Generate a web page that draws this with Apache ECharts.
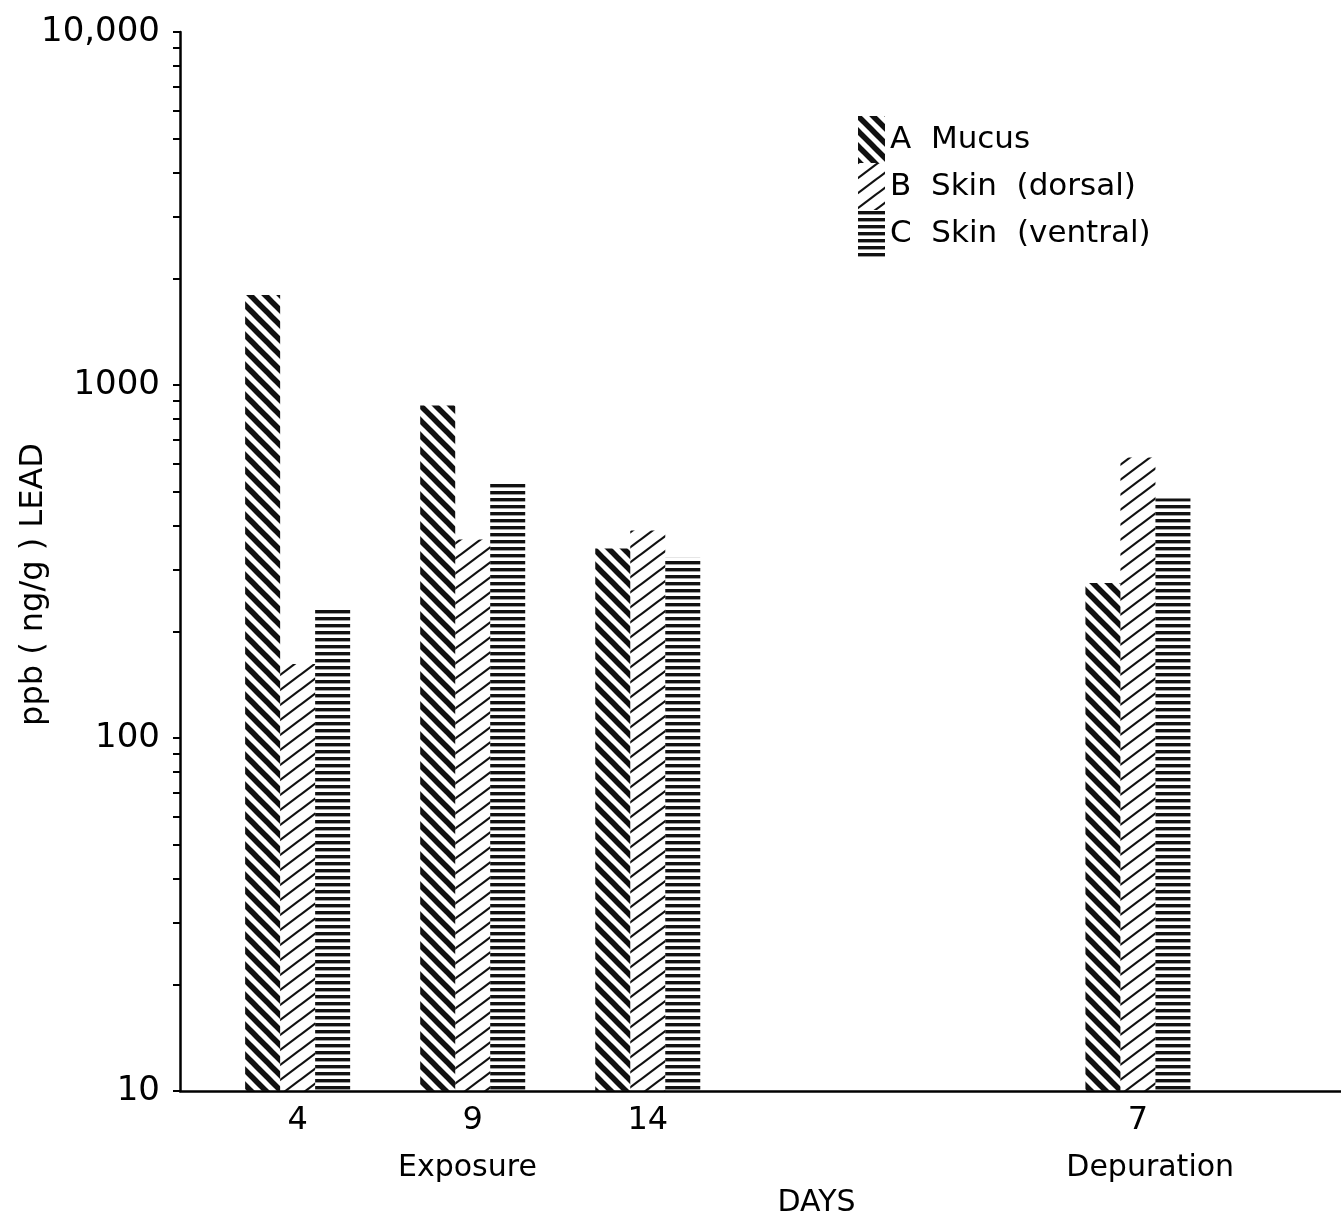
<!DOCTYPE html>
<html>
<head>
<meta charset="utf-8">
<script src="https://cdn.jsdelivr.net/npm/echarts@6/dist/echarts.min.js"></script>
<style>
html,body{margin:0;padding:0;background:#fff;}
#chart{width:1341px;height:1216px;}
</style>
</head>
<body>
<div id="chart"></div>
<script>
// ---- data ----
const dayPositions = [4, 9, 14, 28];          // position along the day axis
const dayLabels = ['4', '9', '14', '7'];
const phasePositions = [8.85, 28.35];
const phaseLabels = ['Exposure', 'Depuration'];
const seriesNames = ['A  Mucus', 'B  Skin  (dorsal)', 'C  Skin  (ventral)'];
const mucus = [1800, 875, 344, 275];
const skinDorsal = [162, 365, 387, 623];
const skinVentral = [235, 526, 324, 477];
const yMajorTicks = [10, 100, 1000, 10000];
const yMajorLabels = ['10', '100', '1000', '10,000'];
const yMinorMultipliers = [2, 3, 4, 5, 6, 7, 8, 9];

// ---- patterns ----
function makeCanvas(w, h) {
  const c = document.createElement('canvas');
  c.width = w; c.height = h;
  return c;
}
function patternA() { // "\\\" thick
  const s = 15, c = makeCanvas(s, s), ctx = c.getContext('2d');
  ctx.strokeStyle = '#111'; ctx.lineWidth = 5.5; ctx.lineCap = 'butt';
  [-s, 0, s].forEach(o => {
    ctx.beginPath(); ctx.moveTo(o - s, -s); ctx.lineTo(o + 2 * s, 2 * s); ctx.stroke();
  });
  return c;
}
function patternB() { // "///" thin
  const w = 20, h = 15, c = makeCanvas(w, h), ctx = c.getContext('2d');
  ctx.strokeStyle = '#111'; ctx.lineWidth = 2.2;
  [-w, 0, w].forEach(o => {
    ctx.beginPath(); ctx.moveTo(o - w, 2 * h); ctx.lineTo(o + 2 * w, -h); ctx.stroke();
  });
  return c;
}
function patternC() { // horizontal lines
  const w = 10, h = 7, c = makeCanvas(w, h), ctx = c.getContext('2d');
  ctx.fillStyle = '#111'; ctx.fillRect(0, 1, w, 3.4);
  return c;
}
const patterns = [patternA(), patternB(), patternC()];

const FONT = '"DejaVu Sans", sans-serif';
const allY = [mucus, skinDorsal, skinVentral];

const yTickValues = [];
yMajorTicks.forEach((d, i) => {
  yTickValues.push(d);
  if (i < yMajorTicks.length - 1) yMinorMultipliers.forEach(m => yTickValues.push(d * m));
});

const chart = echarts.init(document.getElementById('chart'), null, {renderer: 'canvas'});
chart.setOption({
  backgroundColor: '#fff',
  animation: false,
  legend: {
    orient: 'vertical',
    left: 853, top: 111,
    itemWidth: 27, itemHeight: 47, itemGap: 0,
    icon: 'rect',
    textStyle: {color: '#000', fontSize: 31, fontFamily: FONT},
    data: seriesNames
  },
  grid: {left: 180, right: 0, top: 32, bottom: 125, containLabel: false, outerBoundsMode: 'none'},
  xAxis: [{
    type: 'value',
    min: 0.64, max: 33.8,
    axisLine: {show: true, onZero: false, lineStyle: {color: '#000', width: 2.5}},
    axisTick: {show: false},
    splitLine: {show: false},
    axisLabel: {
      customValues: dayPositions,
      formatter: v => dayLabels[dayPositions.indexOf(v)] || '',
      color: '#000', fontSize: 32, fontFamily: FONT, margin: 14
    }
  }, {
    type: 'value',
    min: 0.64, max: 33.8,
    position: 'bottom', offset: 50,
    axisLine: {show: false}, axisTick: {show: false}, splitLine: {show: false},
    axisLabel: {
      customValues: phasePositions,
      formatter: v => phaseLabels[phasePositions.indexOf(v)] || '',
      color: '#000', fontSize: 30, fontFamily: FONT, margin: 12
    },
    name: 'DAYS', nameLocation: 'middle', nameGap: 42,
    nameTextStyle: {color: '#000', fontSize: 30, fontFamily: FONT, padding: [0, 0, 0, 112]}
  }],
  yAxis: {
    type: 'log', logBase: 10, min: 10, max: 10000,
    axisLine: {show: true, lineStyle: {color: '#000', width: 2.5}},
    axisTick: {show: true, inside: false, length: 7, customValues: yTickValues,
      lineStyle: {color: '#000', width: 2}},
    splitLine: {show: false},
    minorTick: {show: false},
    axisLabel: {
      customValues: yMajorTicks,
      formatter: v => yMajorLabels[yMajorTicks.indexOf(v)] || '',
      color: '#000', fontSize: 34, fontFamily: FONT, margin: 20
    },
    name: 'ppb ( ng/g ) LEAD', nameLocation: 'middle', nameGap: 130, nameRotate: 90,
    nameMoveOverlap: false,
    nameTextStyle: {color: '#000', fontSize: 32, fontFamily: FONT, padding: [0, 46, 0, 0]}
  },
  series: seriesNames.map((name, si) => ({
    name: name,
    type: 'bar',
    xAxisIndex: 0,
    barWidth: 35,
    barGap: '0%',
    clip: true,
    itemStyle: {color: {image: patterns[si], repeat: 'repeat'}},
    emphasis: {disabled: true},
    data: dayPositions.map((x, i) => [x, allY[si][i]])
  }))
});
</script>
</body>
</html>
